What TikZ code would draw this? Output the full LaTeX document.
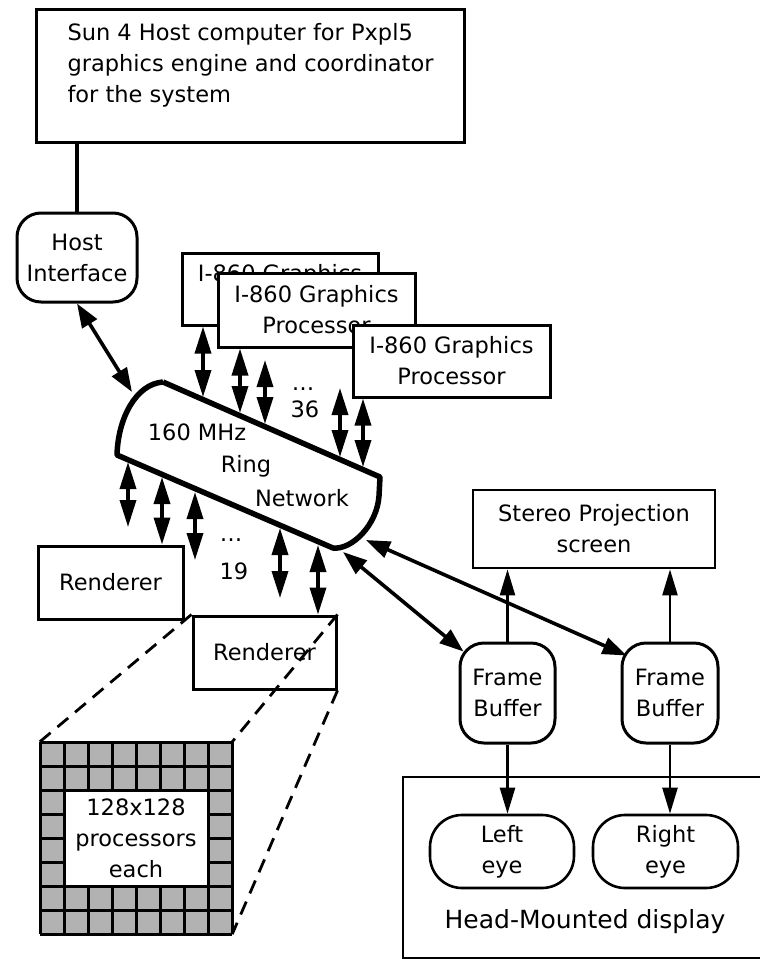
\documentclass[tikz,border=0pt]{standalone}
\usepackage{fontspec}
\setmainfont{DejaVu Sans}
\usetikzlibrary{arrows.meta,calc}

\begin{document}
\begin{tikzpicture}[
  x=1pt, y=-1pt,
  font=\fontsize{22.5}{31}\selectfont,
  box/.style={draw, line width=3pt, fill=white, align=center, inner sep=0pt},
  rbox/.style={box, rounded corners=24pt},
  pill/.style={box, rounded corners=32pt},
  ringline/.style={line width=5.5pt, line join=round},
  dbl/.style={{Triangle[length=27pt,width=16pt]}-{Triangle[length=27pt,width=16pt]}, line width=3.5pt},
  link/.style={{Triangle[length=24pt,width=17pt]}-{Triangle[length=24pt,width=17pt]}, line width=3.6pt},
  feed/.style={-{Triangle[length=26pt,width=15pt]}, line width=2.4pt},
  wire/.style={line width=3.4pt},
  zoomline/.style={dash pattern=on 14pt off 9pt, line width=2.8pt},
  gridline/.style={line width=3pt},
  hmdframe/.style={line width=2.4pt}
]
  \useasboundingbox (0,0) rectangle (760,959);

  % host side
  \node[box, anchor=north west, minimum width=428pt, minimum height=133pt, align=left] (sun) at (35,8)
    {Sun 4 Host computer for Pxpl5\\graphics engine and coordinator\\for the system\\[-4pt]\mbox{}};
  \node[rbox, minimum width=120pt, minimum height=89pt] (host) at (77,257.5) {Host\\Interface};
  \draw[wire] (host.north) -- (host.north |- sun.south);

  % graphics processors
  \node[box, minimum width=196pt, minimum height=72pt] (gp1) at (280,289) {I-860 Graphics\\Processor};
  \node[box, minimum width=197pt, minimum height=74pt] (gp2) at (316.5,310) {I-860 Graphics\\Processor};
  \node[box, minimum width=197pt, minimum height=72pt] (gp3) at (451.5,361) {I-860 Graphics\\Processor};

  % ring network
  \coordinate (rtl) at (163,382);
  \coordinate (rtr) at (380,477);
  \coordinate (rbr) at (333,548);
  \coordinate (rbl) at (117,455);
  \draw[ringline, fill=white] (rtl) -- (rtr) -- (379,496) .. controls (377,525) and (352,550) .. (rbr)
    -- (rbl) .. controls (118,418) and (136,384) .. (rtl);
  \node (ringa) at (197,432) {160 MHz};
  \node (ringb) at (246,466) {Ring};
  \node (ringc) at (302,498) {Network};

  \coordinate (rhost) at (132,392);
  \draw[link] (host.south) -- (rhost);

  \coordinate (up1) at (203,397);
  \coordinate (up2) at (240,413);
  \coordinate (up3) at (265,424);
  \coordinate (up4) at (340,457);
  \coordinate (up5) at (363,467);
  \coordinate (free3) at (265,360);
  \coordinate (free4) at (340,388);
  \draw[dbl] (up1 |- gp1.south) -- (up1);
  \draw[dbl] (up2 |- gp2.south) -- (up2);
  \draw[dbl] (free3) -- (up3);
  \draw[dbl] (free4) -- (up4);
  \draw[dbl] (up5 |- gp3.south) -- (up5);
  \node (dotsup) at (303,389) {…};
  \node (nup) at (305,409) {36};

  % renderers
  \node[box, minimum width=145pt, minimum height=73pt] (ren1) at (110.5,582.5) {Renderer};
  \node[box, minimum width=143pt, minimum height=73pt] (ren2) at (264.5,652.5) {Renderer};

  \coordinate (dn1) at (128,462);
  \coordinate (dn2) at (162,477);
  \coordinate (dn3) at (195,492);
  \coordinate (dn4) at (280,528);
  \coordinate (dn5) at (318,545);
  \coordinate (free1) at (128,527);
  \coordinate (free5) at (195,560);
  \coordinate (free6) at (280,598);
  \draw[dbl] (dn1) -- (free1);
  \draw[dbl] (dn2) -- (dn2 |- ren1.north);
  \draw[dbl] (dn3) -- (free5);
  \draw[dbl] (dn4) -- (free6);
  \draw[dbl] (dn5) -- (dn5 |- ren2.north);
  \node (dotsdn) at (231,540) {…};
  \node (ndn) at (234,571) {19};

  % processor array of one renderer
  \node[fill=gray!60, minimum size=192pt, inner sep=0pt] (pearray) at (136,838) {};
  \foreach \k in {0,...,8} {
    \draw[gridline] (40+24*\k,742) -- (40+24*\k,934);
    \draw[gridline] (40,742+24*\k) -- (232,742+24*\k);
  }
  \node[box, minimum width=144pt, minimum height=96pt] (pecount) at (136,838) {128x128\\processors\\each};
  \draw[zoomline] (ren2.north west) -- (pearray.north west);
  \draw[zoomline] (ren2.north east) -- (pearray.north east);
  \draw[zoomline] (ren2.south east) -- (pearray.south east);

  % display side
  \draw[hmdframe] (770,777) -| (403,958) -- (770,958);
  \node[font=\fontsize{25}{30}\selectfont] (hmdname) at (585,922) {Head-Mounted display};
  \node[box, line width=2.8pt, minimum width=242pt, minimum height=78pt] (stereo) at (594,529) {Stereo Projection\\screen};
  \node[rbox, minimum width=95pt, minimum height=100pt] (fb1) at (507.5,693) {Frame\\Buffer};
  \node[rbox, minimum width=96pt, minimum height=100pt] (fb2) at (670,693) {Frame\\Buffer};
  \node[pill, line width=2.6pt, minimum width=144pt, minimum height=73pt] (leye) at (502,851.5) {Left\\eye};
  \node[pill, line width=2.6pt, minimum width=145pt, minimum height=73pt] (reye) at (665.5,851.5) {Right\\eye};

  \draw[feed] (fb1.north) -- (fb1.north |- stereo.south);
  \draw[feed] (fb2.north) -- (fb2.north |- stereo.south);
  \draw[feed] (fb1.south) -- (fb1.south |- leye.north);
  \draw[feed] (fb2.south) -- (fb2.south |- reye.north);

  \coordinate (ra) at (343,552);
  \coordinate (rb) at (366,540);
  \draw[link] (ra) -- ($(fb1.north west)+(5,10)$);
  \draw[link] (rb) -- ($(fb2.north west)+(6,14)$);
\end{tikzpicture}
\end{document}
